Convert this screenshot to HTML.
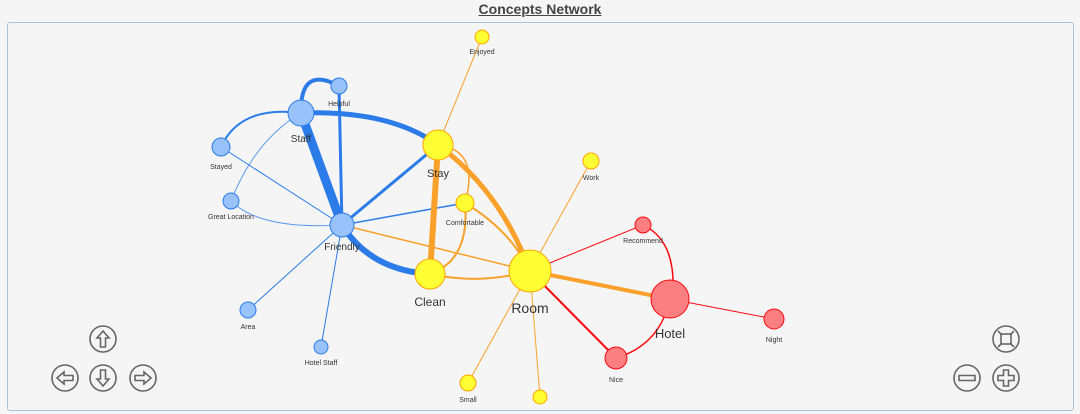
<!DOCTYPE html>
<html><head><meta charset="utf-8"><style>
body{margin:0;width:1080px;height:414px;background:#f5f5f5;font-family:"Liberation Sans",sans-serif;overflow:hidden;position:relative}
.t{position:absolute;top:0;left:0;width:1080px;text-align:center;font-weight:bold;font-size:14px;text-decoration:underline;color:#444;line-height:18px}
.f{position:absolute;left:7px;top:22px;width:1065px;height:387px;border:1px solid #a9c3d3;border-radius:3px}
svg{position:absolute;left:0;top:0}
</style></head><body>
<div class="t">Concepts Network</div>
<div class="f"></div>
<svg width="1080" height="414" font-family="Liberation Sans, sans-serif" fill="none">
<g stroke="#2b7ce9" stroke-linecap="round">
<path d="M301 113 L342 225" stroke-width="9"/>
<path d="M301 113 Q390 110 438 145" stroke-width="5"/>
<path d="M301 113 Q300 65 339 86" stroke-width="4"/>
<path d="M339 86 L342 225" stroke-width="3"/>
<path d="M221 147 Q240 105 301 113" stroke-width="2"/>
<path d="M231 201 Q255 140 301 113" stroke-width="1" stroke="#5a9af0"/>
<path d="M221 147 L342 225" stroke-width="1"/>
<path d="M231 201 Q260 230 342 225" stroke-width="1" stroke="#5a9af0"/>
<path d="M342 225 L438 145" stroke-width="3"/>
<path d="M342 225 L465 203" stroke-width="1.5"/>
<path d="M342 225 Q370 270 430 274" stroke-width="6"/>
<path d="M342 225 L248 310" stroke-width="1"/>
<path d="M342 225 L321 347" stroke-width="1"/>
</g>
<g stroke="#f9a12a" stroke-linecap="round">
<path d="M342 225 L530 271" stroke-width="1.5"/>
<path d="M438 145 L430 274" stroke-width="6"/>
<path d="M438 145 Q500 190 530 271" stroke-width="5"/>
<path d="M438 145 Q480 150 465 203" stroke-width="1.5"/>
<path d="M465 203 Q470 260 430 274" stroke-width="2"/>
<path d="M465 203 Q510 230 530 271" stroke-width="2"/>
<path d="M430 274 Q480 285 530 271" stroke-width="2"/>
<path d="M482 37 L438 145" stroke-width="1"/>
<path d="M591 161 L530 271" stroke-width="1"/>
<path d="M530 271 L468 383" stroke-width="1"/>
<path d="M530 271 L540 397" stroke-width="1"/>
<path d="M530 271 L670 299" stroke-width="4"/>
</g>
<g stroke="#fa0a10">
<path d="M530 271 L643 225" stroke-width="1"/>
<path d="M530 271 L616 358" stroke-width="2"/>
<path d="M643 225 Q675 240 673 290" stroke-width="1.5"/>
<path d="M616 358 Q660 345 670 299" stroke-width="1.5"/>
<path d="M670 299 L774 319" stroke-width="1"/>
</g>
<g stroke="#2b7ce9" fill="#97c2fc">
<circle cx="339" cy="86" r="8"/><circle cx="301" cy="113" r="13"/><circle cx="221" cy="147" r="9"/>
<circle cx="231" cy="201" r="8"/><circle cx="342" cy="225" r="12"/><circle cx="248" cy="310" r="8"/><circle cx="321" cy="347" r="7"/>
</g>
<g stroke="#ffa500" fill="#ffff33">
<circle cx="482" cy="37" r="7"/><circle cx="438" cy="145" r="15"/><circle cx="591" cy="161" r="8"/>
<circle cx="465" cy="203" r="9"/><circle cx="430" cy="274" r="15"/><circle cx="530" cy="271" r="21"/>
<circle cx="468" cy="383" r="8"/><circle cx="540" cy="397" r="7"/>
</g>
<g stroke="#fa0a10" fill="#fb7e81">
<circle cx="643" cy="225" r="8"/><circle cx="670" cy="299" r="19"/><circle cx="774" cy="319" r="10"/><circle cx="616" cy="358" r="11"/>
</g>
<g fill="#343434" text-anchor="middle" font-size="7">
<text x="482" y="54">Enjoyed</text><text x="339" y="106">Helpful</text><text x="221" y="169">Stayed</text>
<text x="591" y="180">Work</text><text x="231" y="219">Great Location</text><text x="465" y="225">Comfortable</text>
<text x="643" y="243">Recommend</text><text x="248" y="329">Area</text><text x="321" y="365">Hotel Staff</text>
<text x="468" y="402">Small</text><text x="774" y="342">Night</text><text x="616" y="382">Nice</text>
</g>
<g fill="#343434" text-anchor="middle">
<text x="301" y="142" font-size="10">Staff</text><text x="342" y="250" font-size="10">Friendly</text>
<text x="438" y="177" font-size="11">Stay</text><text x="430" y="306" font-size="12">Clean</text>
<text x="530" y="313" font-size="14">Room</text><text x="670" y="338" font-size="13">Hotel</text>
</g>
<g stroke="#666" stroke-width="1.6" fill="#f5f5f5">
<circle cx="103" cy="339" r="13"/><circle cx="65" cy="378" r="13"/><circle cx="103" cy="378" r="13"/><circle cx="143" cy="378" r="13"/>
<circle cx="1006" cy="339" r="13"/><circle cx="967" cy="378" r="13"/><circle cx="1006" cy="378" r="13"/>
<path d="M103 331 L97 338 H100.5 V347 H105.5 V338 H109 Z"/>
<path d="M103 386 L97 379 H100.5 V370 H105.5 V379 H109 Z"/>
<path d="M57 378 L64 372 V375.5 H73 V380.5 H64 V384 Z"/>
<path d="M151 378 L144 372 V375.5 H135 V380.5 H144 V384 Z"/>
<path d="M959 375.5 H975 V380.5 H959 Z"/>
<path d="M998 375.5 H1003.5 V370 H1008.5 V375.5 H1014 V380.5 H1008.5 V386 H1003.5 V380.5 H998 Z"/>
<rect x="1001" y="334" width="10" height="10"/>
<path d="M998 331 L1002 335 M1014 331 L1010 335 M998 347 L1002 343 M1014 347 L1010 343"/>
</g>
</svg>
</body></html>
